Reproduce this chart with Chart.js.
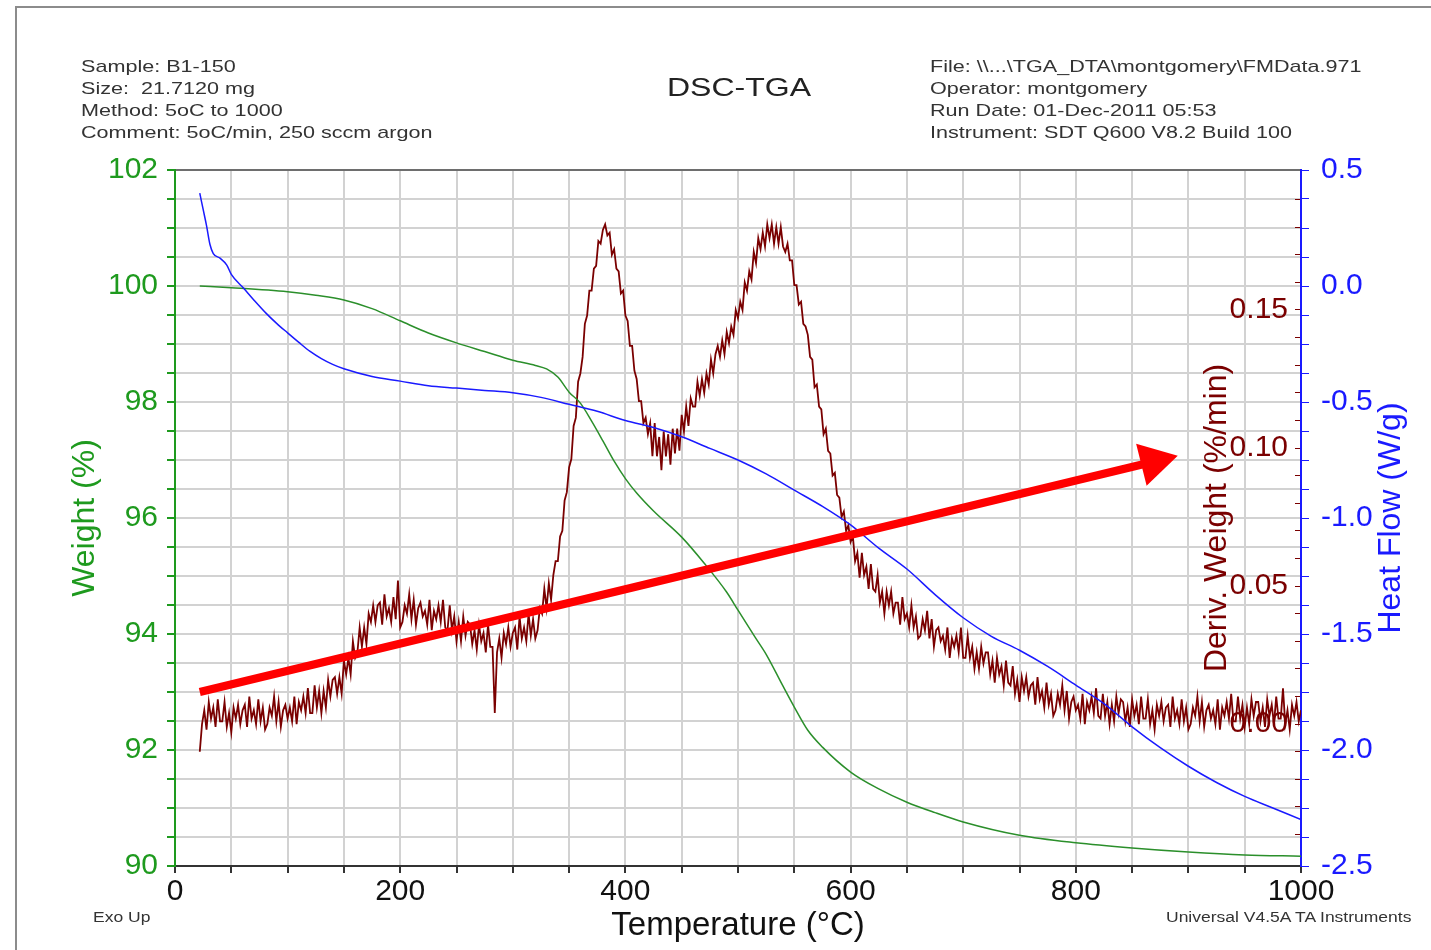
<!DOCTYPE html>
<html>
<head>
<meta charset="utf-8">
<title>DSC-TGA</title>
<script src="https://cdn.jsdelivr.net/npm/chart.js@4.4.1/dist/chart.umd.min.js"></script>
<style>
  html, body { margin: 0; padding: 0; background: #fff; }
  #wrap { position: relative; width: 1431px; height: 950px; overflow: hidden; }
  #dscChart { position: absolute; left: 0; top: 0; }
  #frame { position: absolute; left: 15px; top: 6px; width: 1430px; height: 960px;
           border-top: 2px solid #8c8c8c; border-left: 2px solid #8c8c8c; }
  .txt { position: absolute; font-family: "Liberation Sans", Arial, sans-serif; color: #333;
         white-space: pre; transform-origin: 0 0; }
  .hdr { font-size: 17px; line-height: 22px; transform: scaleX(1.27); }
  .small { font-size: 14px; line-height: 16px; transform: scaleX(1.25); }
  #title { left: 739px; top: 72px; font-size: 25px; line-height: 30px; color: #222;
           transform-origin: 50% 50%; transform: translateX(-50%) scaleX(1.28); }
</style>
</head>
<body>
<div id="wrap">
  <canvas id="dscChart" width="1431" height="950"></canvas>
  <div id="frame"></div>
  <div class="txt hdr" style="left:81px; top:56px;">Sample: B1-150
Size:  21.7120 mg
Method: 5oC to 1000
Comment: 5oC/min, 250 sccm argon</div>
  <div class="txt" id="title">DSC-TGA</div>
  <div class="txt hdr" style="left:930px; top:56px;">File: \\...\TGA_DTA\montgomery\FMData.971
Operator: montgomery
Run Date: 01-Dec-2011 05:53
Instrument: SDT Q600 V8.2 Build 100</div>
  <div class="txt small" style="left:93px; top:909px;">Exo Up</div>
  <div class="txt small" style="left:1166px; top:909px;">Universal V4.5A TA Instruments</div>
</div>
<script>
// Weight (%) - green curve, left axis
const weightTemp = [22, 50, 100, 125, 150, 175, 200, 225, 250, 275, 300, 320, 330, 340, 350, 360, 370, 380, 390, 400,
  410, 425, 450, 470, 490, 500, 515, 525, 540, 550, 562, 575, 600, 625, 650, 675, 700, 750, 800, 850, 900, 950, 1000];
const weightPct = [100.00, 99.97, 99.90, 99.84, 99.76, 99.61, 99.40, 99.19, 99.02, 98.87, 98.72, 98.63, 98.57, 98.43, 98.17, 97.98, 97.67, 97.33, 96.98, 96.68,
  96.43, 96.12, 95.67, 95.22, 94.72, 94.41, 93.95, 93.65, 93.10, 92.74, 92.34, 92.05, 91.62, 91.33, 91.10, 90.92, 90.76, 90.53, 90.40, 90.31, 90.24, 90.19, 90.17];

// Heat flow (W/g) - blue curve, outer right axis
const heatTemp = [22, 25, 28, 31, 34, 40, 46, 50, 61, 70, 81, 90, 100, 110, 120, 130, 140, 150, 175, 200,
  225, 250, 275, 300, 325, 350, 375, 400, 425, 450, 475, 500, 525, 550, 575, 600, 625, 650, 675, 700,
  725, 750, 775, 800, 825, 850, 875, 900, 925, 950, 975, 1000];
const heatFlow = [0.40, 0.33, 0.26, 0.18, 0.14, 0.12, 0.09, 0.05, -0.01, -0.06, -0.118, -0.16, -0.202, -0.243, -0.282, -0.313, -0.338, -0.357, -0.39, -0.41,
  -0.43, -0.44, -0.45, -0.46, -0.48, -0.51, -0.54, -0.58, -0.61, -0.65, -0.70, -0.75, -0.81, -0.88, -0.95, -1.03, -1.13, -1.22, -1.33, -1.43,
  -1.51, -1.57, -1.64, -1.72, -1.80, -1.90, -1.99, -2.07, -2.14, -2.20, -2.25, -2.30];

// Deriv. weight (%/min) - dark red noisy curve, inner right axis
const derivTemp = [
  22, 24, 26, 28, 30, 32, 34, 36, 38, 40,
  42, 44, 46, 48, 50, 52, 54, 56, 58, 60,
  62, 64, 66, 68, 70, 72, 74, 76, 78, 80,
  82, 84, 86, 88, 90, 92, 94, 96, 98, 100,
  102, 104, 106, 108, 110, 112, 114, 116, 118, 120,
  122, 124, 126, 128, 130, 132, 134, 136, 138, 140,
  142, 144, 146, 148, 150, 152, 154, 156, 158, 160,
  162, 164, 166, 168, 170, 172, 174, 176, 178, 180,
  182, 184, 186, 188, 190, 192, 194, 196, 198, 200,
  202, 204, 206, 208, 210, 212, 214, 216, 218, 220,
  222, 224, 226, 228, 230, 232, 234, 236, 238, 240,
  242, 244, 246, 248, 250, 252, 254, 256, 258, 260,
  262, 264, 266, 268, 270, 272, 274, 276, 278, 280,
  282, 284, 286, 288, 290, 292, 294, 296, 298, 300,
  302, 304, 306, 308, 310, 312, 314, 316, 318, 320,
  322, 324, 326, 328, 330, 332, 334, 336, 338, 340,
  342, 344, 346, 348, 350, 352, 354, 356, 358, 360,
  362, 364, 366, 368, 370, 372, 374, 376, 378, 380,
  382, 384, 386, 388, 390, 392, 394, 396, 398, 400,
  402, 404, 406, 408, 410, 412, 414, 416, 418, 420,
  422, 424, 426, 428, 430, 432, 434, 436, 438, 440,
  442, 444, 446, 448, 450, 452, 454, 456, 458, 460,
  462, 464, 466, 468, 470, 472, 474, 476, 478, 480,
  482, 484, 486, 488, 490, 492, 494, 496, 498, 500,
  502, 504, 506, 508, 510, 512, 514, 516, 518, 520,
  522, 524, 526, 528, 530, 532, 534, 536, 538, 540,
  542, 544, 546, 548, 550, 552, 554, 556, 558, 560,
  562, 564, 566, 568, 570, 572, 574, 576, 578, 580,
  582, 584, 586, 588, 590, 592, 594, 596, 598, 600,
  602, 604, 606, 608, 610, 612, 614, 616, 618, 620,
  622, 624, 626, 628, 630, 632, 634, 636, 638, 640,
  642, 644, 646, 648, 650, 652, 654, 656, 658, 660,
  662, 664, 666, 668, 670, 672, 674, 676, 678, 680,
  682, 684, 686, 688, 690, 692, 694, 696, 698, 700,
  702, 704, 706, 708, 710, 712, 714, 716, 718, 720,
  722, 724, 726, 728, 730, 732, 734, 736, 738, 740,
  742, 744, 746, 748, 750, 752, 754, 756, 758, 760,
  762, 764, 766, 768, 770, 772, 774, 776, 778, 780,
  782, 784, 786, 788, 790, 792, 794, 796, 798, 800,
  802, 804, 806, 808, 810, 812, 814, 816, 818, 820,
  822, 824, 826, 828, 830, 832, 834, 836, 838, 840,
  842, 844, 846, 848, 850, 852, 854, 856, 858, 860,
  862, 864, 866, 868, 870, 872, 874, 876, 878, 880,
  882, 884, 886, 888, 890, 892, 894, 896, 898, 900,
  902, 904, 906, 908, 910, 912, 914, 916, 918, 920,
  922, 924, 926, 928, 930, 932, 934, 936, 938, 940,
  942, 944, 946, 948, 950, 952, 954, 956, 958, 960,
  962, 964, 966, 968, 970, 972, 974, 976, 978, 980,
  982, 984, 986, 988, 990, 992, 994, 996, 998, 1000];
const derivRate = [
  -0.010, 0.000, 0.005, -0.002, 0.008, 0.002, 0.006, -0.001, 0.009, 0.001,
  0.001, 0.008, -0.001, 0.004, -0.003, 0.006, 0.002, 0.007, 0.000, 0.005,
  0.007, -0.001, 0.010, 0.002, 0.005, 0.000, 0.009, 0.001, 0.006, -0.002,
  0.000, 0.006, 0.003, 0.010, 0.001, 0.008, -0.001, 0.005, 0.007, 0.002,
  0.006, 0.001, 0.010, 0.000, 0.008, 0.005, 0.010, 0.004, 0.013, 0.004,
  0.004, 0.014, 0.006, 0.012, 0.004, 0.012, 0.006, 0.016, 0.010, 0.016,
  0.017, 0.011, 0.017, 0.011, 0.023, 0.018, 0.024, 0.018, 0.030, 0.024,
  0.026, 0.035, 0.028, 0.035, 0.029, 0.040, 0.037, 0.043, 0.037, 0.043,
  0.044, 0.036, 0.047, 0.039, 0.042, 0.037, 0.046, 0.038, 0.052, 0.035,
  0.037, 0.043, 0.040, 0.047, 0.038, 0.045, 0.036, 0.042, 0.044, 0.039,
  0.041, 0.036, 0.045, 0.034, 0.041, 0.038, 0.043, 0.037, 0.045, 0.035,
  0.034, 0.043, 0.034, 0.039, 0.030, 0.037, 0.030, 0.039, 0.032, 0.037,
  0.036, 0.029, 0.034, 0.027, 0.036, 0.030, 0.033, 0.026, 0.036, 0.028,
  0.028, 0.004, 0.026, 0.031, 0.024, 0.033, 0.029, 0.035, 0.028, 0.033,
  0.035, 0.027, 0.039, 0.031, 0.035, 0.030, 0.040, 0.032, 0.038, 0.031,
  0.034, 0.042, 0.040, 0.049, 0.042, 0.051, 0.045, 0.054, 0.059, 0.059,
  0.068, 0.070, 0.081, 0.084, 0.093, 0.096, 0.108, 0.111, 0.124, 0.127,
  0.133, 0.145, 0.148, 0.157, 0.157, 0.165, 0.166, 0.175, 0.174, 0.179,
  0.181, 0.177, 0.178, 0.170, 0.172, 0.165, 0.164, 0.156, 0.157, 0.148,
  0.146, 0.137, 0.137, 0.128, 0.125, 0.117, 0.117, 0.109, 0.111, 0.105,
  0.109, 0.097, 0.109, 0.097, 0.104, 0.092, 0.106, 0.097, 0.105, 0.094,
  0.107, 0.098, 0.107, 0.099, 0.112, 0.106, 0.115, 0.108, 0.118, 0.115,
  0.115, 0.124, 0.119, 0.125, 0.120, 0.127, 0.123, 0.132, 0.127, 0.134,
  0.137, 0.133, 0.139, 0.134, 0.142, 0.138, 0.144, 0.141, 0.150, 0.147,
  0.153, 0.150, 0.160, 0.157, 0.164, 0.161, 0.171, 0.167, 0.176, 0.172,
  0.178, 0.173, 0.181, 0.176, 0.181, 0.174, 0.180, 0.174, 0.180, 0.173,
  0.171, 0.174, 0.168, 0.168, 0.159, 0.159, 0.152, 0.153, 0.145, 0.144,
  0.141, 0.133, 0.132, 0.122, 0.123, 0.115, 0.114, 0.105, 0.107, 0.099,
  0.098, 0.090, 0.091, 0.083, 0.082, 0.075, 0.077, 0.070, 0.072, 0.066,
  0.068, 0.059, 0.062, 0.053, 0.062, 0.054, 0.057, 0.049, 0.058, 0.049,
  0.048, 0.054, 0.044, 0.048, 0.040, 0.048, 0.043, 0.048, 0.040, 0.044,
  0.044, 0.036, 0.046, 0.038, 0.040, 0.035, 0.043, 0.035, 0.039, 0.031,
  0.032, 0.038, 0.034, 0.041, 0.031, 0.038, 0.028, 0.034, 0.035, 0.030,
  0.032, 0.027, 0.035, 0.024, 0.031, 0.028, 0.032, 0.026, 0.035, 0.024,
  0.024, 0.032, 0.024, 0.028, 0.020, 0.026, 0.020, 0.028, 0.022, 0.026,
  0.026, 0.018, 0.023, 0.015, 0.024, 0.018, 0.021, 0.014, 0.023, 0.015,
  0.014, 0.021, 0.011, 0.016, 0.008, 0.017, 0.012, 0.017, 0.010, 0.014,
  0.015, 0.007, 0.017, 0.009, 0.012, 0.006, 0.015, 0.007, 0.011, 0.003,
  0.005, 0.011, 0.007, 0.014, 0.005, 0.012, 0.002, 0.008, 0.010, 0.005,
  0.007, 0.002, 0.011, 0.000, 0.008, 0.005, 0.010, 0.004, 0.013, 0.003,
  0.002, 0.011, 0.003, 0.008, 0.000, 0.007, 0.001, 0.010, 0.004, 0.009,
  0.008, 0.001, 0.006, -0.001, 0.009, 0.003, 0.007, 0.000, 0.010, 0.002,
  0.002, 0.009, 0.000, 0.005, -0.002, 0.007, 0.003, 0.008, 0.001, 0.006,
  0.007, -0.001, 0.010, 0.002, 0.005, 0.000, 0.009, 0.001, 0.006, -0.002,
  0.000, 0.006, 0.003, 0.010, 0.001, 0.008, -0.001, 0.005, 0.007, 0.002,
  0.005, 0.000, 0.009, -0.002, 0.006, 0.003, 0.008, 0.002, 0.011, 0.001,
  0.001, 0.010, 0.002, 0.007, -0.001, 0.006, 0.000, 0.009, 0.003, 0.008,
  0.008, 0.001, 0.006, -0.001, 0.009, 0.003, 0.007, 0.000, 0.010, 0.002,
  0.002, 0.013, 0.000, 0.005, -0.002, 0.007, 0.003, 0.008, 0.001, 0.005];

// Red arrow drawn over the plot (start, arrowhead centre) in temperature / weight units
const arrowTemp = [22, 869];
const arrowWeight = [93.0, 96.97];

// Labelled tick values
const tempTickLabels = [0, 200, 400, 600, 800, 1000];
const weightTickLabels = [90, 92, 94, 96, 98, 100, 102];
const derivTickLabels = [0.00, 0.05, 0.10, 0.15];
const heatTickLabels = [0.5, 0.0, -0.5, -1.0, -1.5, -2.0, -2.5];

const green = '#1e9a1e';
const blue = '#1a1aff';
const darkRed = '#7a0000';
const gridGray = '#d2d2d2';

const toPoints = (xs, ys) => xs.map((x, i) => ({ x: x, y: ys[i] }));
const inList = (list, v) => list.some(l => Math.abs(l - v) < 1e-6);

Chart.defaults.font.family = '"Liberation Sans", Arial, sans-serif';

// rotated titles for the two right-hand axes (read bottom to top)
const sideTitles = {
  id: 'sideTitles',
  afterDatasetsDraw(chart) {
    const { ctx, chartArea } = chart;
    const midY = (chartArea.top + chartArea.bottom) / 2;
    const items = [
      ['Deriv. Weight (%/min)', darkRed, chartArea.right - 84],
      ['Heat Flow (W/g)', blue, chartArea.right + 90]
    ];
    ctx.save();
    ctx.font = '32px "Liberation Sans", Arial, sans-serif';
    ctx.textAlign = 'center';
    ctx.textBaseline = 'middle';
    items.forEach(([text, color, x]) => {
      ctx.save();
      ctx.translate(x, midY);
      ctx.rotate(-Math.PI / 2);
      ctx.fillStyle = color;
      ctx.fillText(text, 0, 0);
      ctx.restore();
    });
    ctx.restore();
  }
};

const ctx = document.getElementById('dscChart').getContext('2d');
const dscChart = new Chart(ctx, {
  type: 'line',
  data: {
    datasets: [{
      label: 'Arrow',
      data: toPoints(arrowTemp, arrowWeight),
      yAxisID: 'y',
      borderColor: '#ff0000',
      backgroundColor: '#ff0000',
      borderWidth: 8,
      pointStyle: 'triangle',
      pointRadius: [0, 25],
      pointRotation: [0, 76],
      pointBorderWidth: 0,
      pointBackgroundColor: '#ff0000'
    }, {
      label: 'Heat Flow',
      data: toPoints(heatTemp, heatFlow),
      yAxisID: 'yHeat',
      borderColor: blue,
      borderWidth: 1.5,
      pointRadius: 0,
      cubicInterpolationMode: 'monotone'
    }, {
      label: 'Weight',
      data: toPoints(weightTemp, weightPct),
      yAxisID: 'y',
      borderColor: '#2b8f2b',
      borderWidth: 1.5,
      pointRadius: 0,
      cubicInterpolationMode: 'monotone'
    }, {
      label: 'Deriv. Weight',
      data: toPoints(derivTemp, derivRate),
      yAxisID: 'yDeriv',
      borderColor: darkRed,
      borderWidth: 1.8,
      pointRadius: 0,
      tension: 0
    }]
  },
  options: {
    responsive: false,
    animation: false,
    devicePixelRatio: 1,
    events: [],
    layout: { padding: { left: 60, top: 170, right: 0, bottom: 0 } },
    plugins: { legend: { display: false }, tooltip: { enabled: false } },
    scales: {
      x: {
        type: 'linear',
        position: 'bottom',
        min: 0,
        max: 1000,
        ticks: {
          stepSize: 50,
          autoSkip: false,
          maxRotation: 0,
          color: '#111',
          padding: 1,
          font: { size: 30 },
          callback: v => inList(tempTickLabels, v) ? String(v) : ''
        },
        grid: {
          color: c => (c.tick && (c.tick.value === 0 || c.tick.value === 1000)) ? 'rgba(0,0,0,0)' : gridGray,
          lineWidth: 2,
          tickColor: '#333',
          tickLength: 7
        },
        border: { color: '#333', width: 2 },
        title: {
          display: true,
          text: 'Temperature (°C)',
          color: '#111',
          font: { size: 33 },
          padding: { top: 0, bottom: 4 }
        },
        afterFit: s => { s.height = 84; }
      },
      y: {
        position: 'left',
        min: 90,
        max: 102,
        ticks: {
          stepSize: 0.5,
          autoSkip: false,
          color: green,
          padding: 9,
          font: { size: 30 },
          callback: v => inList(weightTickLabels, v) ? String(v) : ''
        },
        grid: {
          color: c => {
            if (!c.tick) return gridGray;
            if (c.tick.value === 102) return '#6e6e6e';
            if (c.tick.value === 90) return 'rgba(0,0,0,0)';
            return gridGray;
          },
          lineWidth: 2,
          tickColor: green,
          tickLength: 8
        },
        border: { color: green, width: 2 },
        title: {
          display: true,
          text: 'Weight (%)',
          color: green,
          font: { size: 32 },
          padding: { top: 6, bottom: 0 }
        },
        afterFit: s => { s.width = 115; }
      },
      yDeriv: {
        position: 'right',
        weight: 0,
        min: -0.0514,
        max: 0.2007,
        afterBuildTicks: s => {
          s.ticks = s.ticks.filter(t => Math.abs(t.value * 100 - Math.round(t.value * 100)) < 1e-6);
        },
        ticks: {
          stepSize: 0.01,
          autoSkip: false,
          mirror: true,
          padding: -13,
          color: darkRed,
          font: { size: 30 },
          callback: v => inList(derivTickLabels, v) ? v.toFixed(2) : ''
        },
        grid: {
          drawOnChartArea: false,
          tickColor: darkRed,
          tickLength: -6
        },
        border: { display: false },
        afterFit: s => { s.width = 0; }
      },
      yHeat: {
        position: 'right',
        weight: 1,
        min: -2.5,
        max: 0.5,
        ticks: {
          stepSize: 0.125,
          autoSkip: false,
          color: blue,
          padding: 12,
          font: { size: 30 },
          callback: v => inList(heatTickLabels, v) ? v.toFixed(1) : ''
        },
        grid: {
          drawOnChartArea: false,
          tickColor: blue,
          tickLength: 8
        },
        border: { color: blue, width: 2 },
        afterFit: s => { s.width = 130; }
      }
    }
  },
  plugins: [sideTitles]
});
</script>
</body>
</html>
